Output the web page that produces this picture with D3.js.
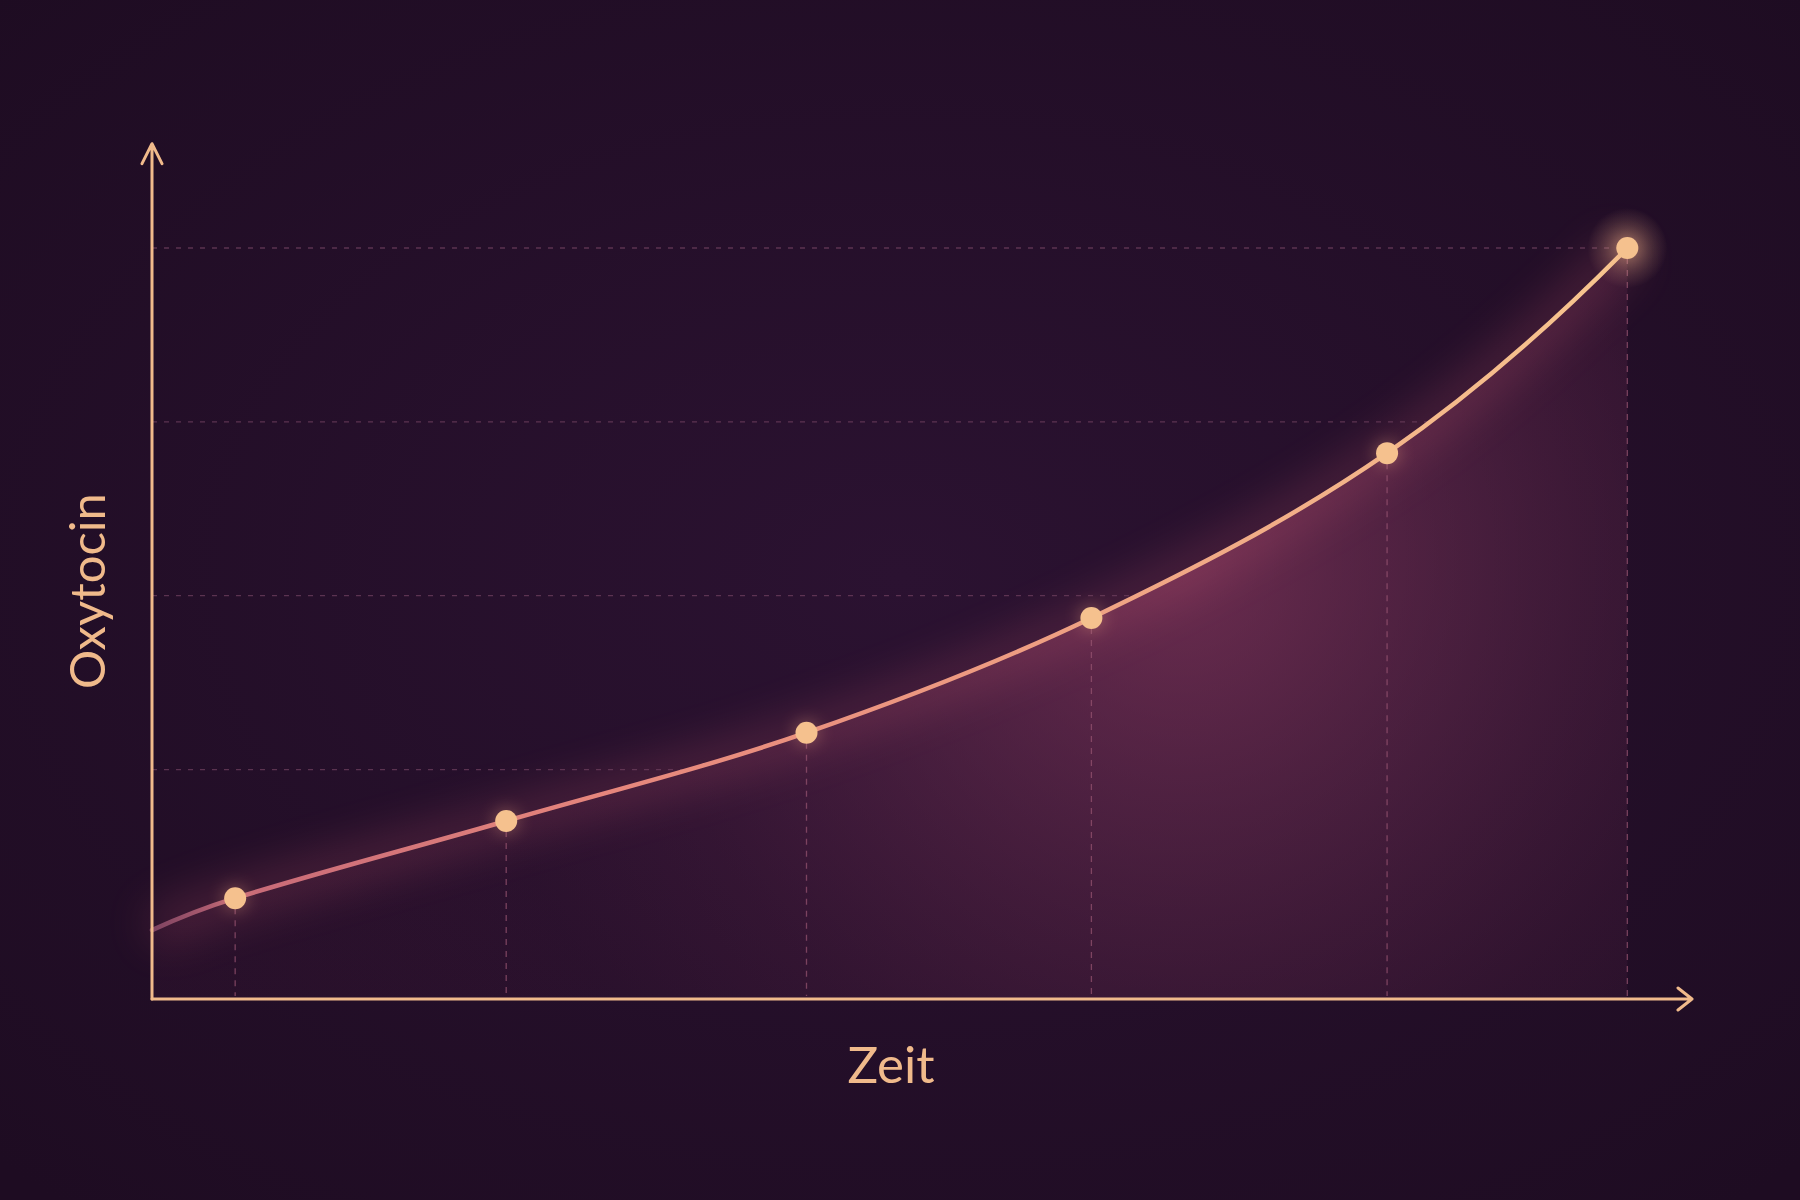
<!DOCTYPE html>
<html lang="de">
  <head>
   <meta http-equiv="Content-Type" content="text/html;charset=utf-8">
   <title>Oxytocin ueber Zeit</title>
   <script type="text/javascript" src="https://cdn.jsdelivr.net/npm/d3@7"></script>
   <style>
     body { margin: 0; background: #220f26; }
   </style>
  </head>

  <body>

<script>

// data (x = zeit, y = oxytocin, arbitrary units)
var times  = [0, 5.4, 23, 42.5, 61, 80.2, 95.8]
var values = [1.9, 6.5, 17.6, 30.3, 46.8, 70.5, 100]
// first point is just where the curve leaves the y axis, no dot there
var showDot = [false, true, true, true, true, true, true]
var gridValues = [25, 50, 75, 100]
var xLabel = "Zeit"
var yLabel = "Oxytocin"

var width = 1800
var height = 1200

var points = times.map(function(t, i){ return {t: t, v: values[i], dot: showDot[i]} })

var x = d3.scaleLinear().domain([0, 100]).range([152, 1692])
var y = d3.scaleLinear().domain([-8, 100]).range([999, 248])
var yTop = 115   // where the y arrow ends

var svg = d3.select("body").append("svg")
  .attr("width", width)
  .attr("height", height)

var defs = svg.append("defs")

// background vignette
var bg = defs.append("radialGradient").attr("id", "bg")
  .attr("cx", "50%").attr("cy", "48%").attr("r", "70%")
bg.append("stop").attr("offset", "0%").attr("stop-color", "#2b1231")
bg.append("stop").attr("offset", "100%").attr("stop-color", "#1e0c22")

// line colour goes from faded rose to peach
var lineGrad = defs.append("linearGradient").attr("id", "lineGrad")
  .attr("gradientUnits", "userSpaceOnUse")
  .attr("x1", x(0)).attr("x2", x(times[times.length - 1])).attr("y1", 0).attr("y2", 0)
lineGrad.append("stop").attr("offset", "0%").attr("stop-color", "#7d4361")
lineGrad.append("stop").attr("offset", "6%").attr("stop-color", "#c76a78")
lineGrad.append("stop").attr("offset", "30%").attr("stop-color", "#e5857c")
lineGrad.append("stop").attr("offset", "60%").attr("stop-color", "#ee9e82")
lineGrad.append("stop").attr("offset", "100%").attr("stop-color", "#f7c68f")

// fill under the curve: glows most around the middle-right, dies off to the corners
var areaGrad = defs.append("radialGradient").attr("id", "areaGrad")
  .attr("gradientUnits", "userSpaceOnUse")
  .attr("cx", 1180).attr("cy", 560).attr("r", 720)
areaGrad.append("stop").attr("offset", "0%").attr("stop-color", "#9a4066").attr("stop-opacity", 0.6)
areaGrad.append("stop").attr("offset", "40%").attr("stop-color", "#82375c").attr("stop-opacity", 0.38)
areaGrad.append("stop").attr("offset", "75%").attr("stop-color", "#6a2a50").attr("stop-opacity", 0.2)
areaGrad.append("stop").attr("offset", "100%").attr("stop-color", "#5a2248").attr("stop-opacity", 0.12)

var blur = defs.append("filter").attr("id", "blur")
  .attr("x", "-20%").attr("y", "-20%").attr("width", "140%").attr("height", "140%")
blur.append("feGaussianBlur").attr("stdDeviation", 22)

var dotGlow = defs.append("filter").attr("id", "dotGlow")
  .attr("x", "-200%").attr("y", "-200%").attr("width", "500%").attr("height", "500%")
dotGlow.append("feGaussianBlur").attr("stdDeviation", 8)

var halo = defs.append("radialGradient").attr("id", "halo")
halo.append("stop").attr("offset", "0%").attr("stop-color", "#f6b98c").attr("stop-opacity", 0.42)
halo.append("stop").attr("offset", "100%").attr("stop-color", "#f6b98c").attr("stop-opacity", 0)

svg.append("rect")
  .attr("width", width)
  .attr("height", height)
  .attr("fill", "url(#bg)")

// smooth curve through the points. d3's built-in curves flatten the ends,
// this one keeps bending into the last point like the picture does
// (central-difference tangents inside, mirrored tangents at the two ends)
var px = points.map(function(d){ return [x(d.t), y(d.v)] })

function smoothPath(pts){
  var n = pts.length
  var m = []
  for (var i = 1; i < n - 1; i++){
    m[i] = (pts[i+1][1] - pts[i-1][1]) / (pts[i+1][0] - pts[i-1][0])
  }
  var s0 = (pts[1][1] - pts[0][1]) / (pts[1][0] - pts[0][0])
  var sn = (pts[n-1][1] - pts[n-2][1]) / (pts[n-1][0] - pts[n-2][0])
  m[0] = 2 * s0 - m[1]
  m[n-1] = 2 * sn - m[n-2]
  var p = d3.path()
  p.moveTo(pts[0][0], pts[0][1])
  for (var j = 0; j < n - 1; j++){
    var h = pts[j+1][0] - pts[j][0]
    p.bezierCurveTo(pts[j][0] + h/3, pts[j][1] + m[j]*h/3,
                    pts[j+1][0] - h/3, pts[j+1][1] - m[j+1]*h/3,
                    pts[j+1][0], pts[j+1][1])
  }
  return p.toString()
}

var linePath = smoothPath(px)
var xFirst = px[0][0], xLast = px[px.length - 1][0], yBase = y.range()[0]
var areaPath = linePath + "L" + xLast + "," + yBase + "L" + xFirst + "," + yBase + "Z"
// region above the curve, gridlines only show there
var abovePath = linePath + "L" + xLast + ",0L" + xFirst + ",0Z"

defs.append("clipPath").attr("id", "aboveCurve")
  .append("path").attr("d", abovePath)

// area + soft glow
svg.append("path")
  .attr("d", areaPath)
  .attr("fill", "url(#areaGrad)")

svg.append("path")
  .attr("d", linePath)
  .attr("fill", "none")
  .attr("stroke", "#c4566f")
  .attr("stroke-width", 34)
  .attr("opacity", 0.26)
  .attr("filter", "url(#blur)")

// horizontal dashed gridlines
svg.append("g")
  .attr("clip-path", "url(#aboveCurve)")
  .selectAll("line").data(gridValues).enter().append("line")
  .attr("x1", x(0))
  .attr("x2", x(times[times.length - 1]))
  .attr("y1", function(d){ return y(d) })
  .attr("y2", function(d){ return y(d) })
  .attr("stroke", "#6e3f5e")
  .attr("stroke-width", 1.3)
  .attr("stroke-dasharray", "5,7")
  .attr("opacity", 0.75)

// vertical drop lines from every dot
var dots = points.filter(function(d){ return d.dot })

svg.append("g").selectAll("line").data(dots).enter().append("line")
  .attr("x1", function(d){ return x(d.t) })
  .attr("x2", function(d){ return x(d.t) })
  .attr("y1", function(d){ return y(d.v) + 10 })
  .attr("y2", y.range()[0] - 3)
  .attr("stroke", "#9a5673")
  .attr("stroke-width", 1.3)
  .attr("stroke-dasharray", "6,6")
  .attr("opacity", 0.7)

// the curve
svg.append("path")
  .attr("d", linePath)
  .attr("fill", "none")
  .attr("stroke", "url(#lineGrad)")
  .attr("stroke-width", 4.5)
  .attr("stroke-linecap", "round")

// glow behind last dot
var last = dots[dots.length - 1]
svg.append("circle")
  .attr("cx", x(last.t))
  .attr("cy", y(last.v))
  .attr("r", 40)
  .attr("fill", "url(#halo)")

svg.append("g").selectAll("circle").data(dots).enter().append("circle")
  .attr("cx", function(d){ return x(d.t) })
  .attr("cy", function(d){ return y(d.v) })
  .attr("r", 13)
  .attr("fill", "#f2a983")
  .attr("opacity", 0.3)
  .attr("filter", "url(#dotGlow)")

svg.append("g").selectAll("circle").data(dots).enter().append("circle")
  .attr("cx", function(d){ return x(d.t) })
  .attr("cy", function(d){ return y(d.v) })
  .attr("r", 11)
  .attr("fill", "#f5c18e")

// axes with open arrow heads
var axisColor = "#f0ba8b"
var x0 = x.range()[0], y0 = y.range()[0]
var yEnd = y(yTop), xEnd = x.range()[1]

svg.append("path")
  .attr("d", "M" + x0 + "," + y0 + "V" + yEnd
    + "M" + (x0 - 10) + "," + (yEnd + 20) + "L" + x0 + "," + yEnd + "L" + (x0 + 10) + "," + (yEnd + 20))
  .attr("fill", "none")
  .attr("stroke", axisColor)
  .attr("stroke-width", 3)
  .attr("stroke-linejoin", "round")
  .attr("stroke-linecap", "round")

svg.append("path")
  .attr("d", "M" + x0 + "," + y0 + "H" + xEnd
    + "M" + (xEnd - 14) + "," + (y0 - 11) + "L" + xEnd + "," + y0 + "L" + (xEnd - 14) + "," + (y0 + 11))
  .attr("fill", "none")
  .attr("stroke", axisColor)
  .attr("stroke-width", 3)
  .attr("stroke-linejoin", "round")
  .attr("stroke-linecap", "round")

// labels
svg.append("text")
  .attr("x", 891)
  .attr("y", 1083)
  .attr("text-anchor", "middle")
  .attr("fill", axisColor)
  .style("font-family", "Lato, 'Open Sans', sans-serif")
  .style("font-size", "51px")
  .text(xLabel)

svg.append("text")
  .attr("transform", "translate(105,591) rotate(-90)")
  .attr("text-anchor", "middle")
  .attr("fill", axisColor)
  .style("font-family", "Lato, 'Open Sans', sans-serif")
  .style("font-size", "49px")
  .text(yLabel)

</script>

</body>
</html>
